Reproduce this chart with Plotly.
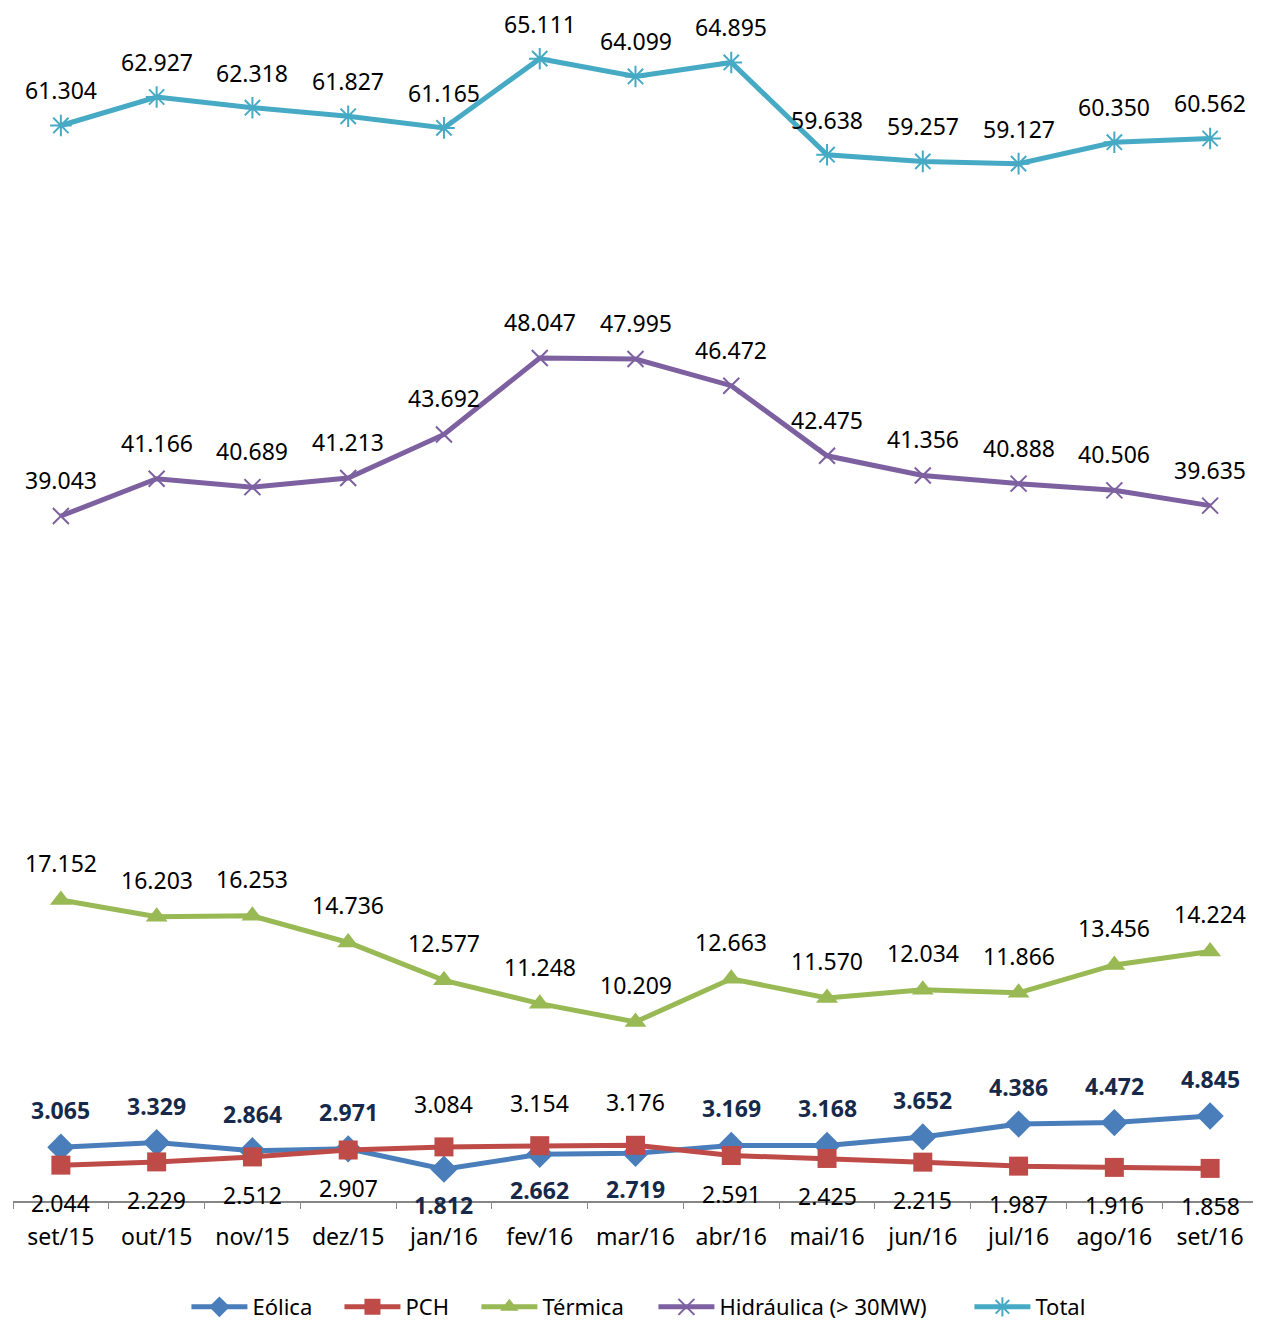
import plotly.graph_objects as go

categories = ["set/15", "out/15", "nov/15", "dez/15", "jan/16", "fev/16", "mar/16",
              "abr/16", "mai/16", "jun/16", "jul/16", "ago/16", "set/16"]
eolica = [3.065, 3.329, 2.864, 2.971, 1.812, 2.662, 2.719, 3.169, 3.168, 3.652, 4.386, 4.472, 4.845]
pch = [2.044, 2.229, 2.512, 2.907, 3.084, 3.154, 3.176, 2.591, 2.425, 2.215, 1.987, 1.916, 1.858]
termica = [17.152, 16.203, 16.253, 14.736, 12.577, 11.248, 10.209, 12.663, 11.570, 12.034, 11.866, 13.456, 14.224]
hidraulica = [39.043, 41.166, 40.689, 41.213, 43.692, 48.047, 47.995, 46.472, 42.475, 41.356, 40.888, 40.506, 39.635]
total = [61.304, 62.927, 62.318, 61.827, 61.165, 65.111, 64.099, 64.895, 59.638, 59.257, 59.127, 60.350, 60.562]

FONT = "Noto Sans"
fig = go.Figure()

series = [
    ("Eólica", eolica, "#4A7EBB", dict(symbol="diamond", size=21), "legend", 0.1438),
    ("PCH", pch, "#BE4B48", dict(symbol="square", size=19), "legend2", 0.2667),
    ("Térmica", termica, "#98B954", dict(symbol="triangle-up", size=19), "legend3", 0.3767),
    ("Hidráulica (> 30MW)", hidraulica, "#7D60A0",
     dict(symbol="x-thin", size=16, line=dict(width=2, color="#7D60A0")), "legend4", 0.5189),
    ("Total", total, "#46AAC5",
     dict(symbol="asterisk", size=18, line=dict(width=2, color="#46AAC5")), "legend5", 0.7727),
]
legend_defs = {}
for name, vals, color, marker, leg, lx in series:
    fig.add_trace(go.Scatter(
        x=categories, y=vals, name=name, mode="lines+markers",
        line=dict(color=color, width=5),
        marker=dict(color=color, **marker),
        legend=leg,
    ))
    legend_defs[leg] = dict(orientation="h", x=lx - 0.0045, xanchor="left", y=-0.0889, yanchor="middle",
                            font=dict(family=FONT, size=22, color="#000000"),
                            bgcolor="rgba(0,0,0,0)", itemwidth=56)

annotations = []
def fmt(v):
    return f"{v:.3f}"

for i, c in enumerate(categories):
    for vals, shift in ((total, 35), (hidraulica, 36), (termica, 37)):
        annotations.append(dict(x=c, y=vals[i], text=fmt(vals[i]), showarrow=False,
                                yshift=shift, font=dict(family=FONT, size=23, color="#000000")))
    eol_above = eolica[i] >= pch[i]
    annotations.append(dict(x=c, y=eolica[i], text="<b>" + fmt(eolica[i]) + "</b>", showarrow=False,
                            yshift=37 if eol_above else -36,
                            font=dict(family=FONT, size=23, color="#17294A")))
    annotations.append(dict(x=c, y=pch[i], text=fmt(pch[i]), showarrow=False,
                            yshift=-38 if eol_above else 43,
                            font=dict(family=FONT, size=23, color="#000000")))

fig.update_layout(
    width=1253, height=1340,
    margin=dict(l=5, r=3, t=0, b=147),
    plot_bgcolor="white", paper_bgcolor="white",
    font=dict(family=FONT, size=23, color="#000000"),
    showlegend=True,
    annotations=annotations,
    xaxis=dict(showline=True, linecolor="#868686", linewidth=1.5,
               ticks="outside", tickson="boundaries", ticklen=6, tickcolor="#868686",
               showgrid=False, ticklabelstandoff=15,
               tickfont=dict(family=FONT, size=23, color="#000000"),
               range=[-0.5, 12.5]),
    yaxis=dict(visible=False, range=[0, 68], showgrid=False, zeroline=False),
    **legend_defs,
)

fig.write_html("out.html")
